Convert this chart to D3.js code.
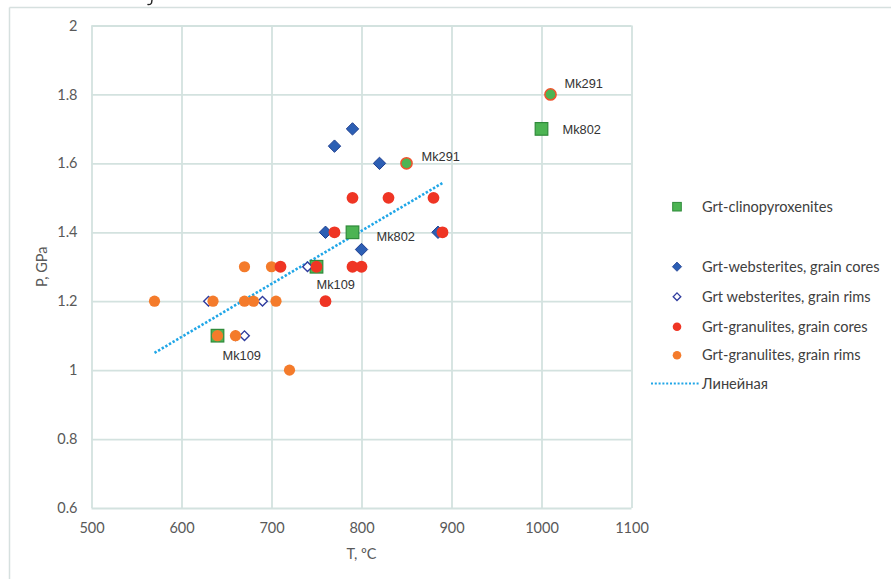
<!DOCTYPE html>
<html>
<head>
<meta charset="utf-8">
<script src="https://cdn.jsdelivr.net/npm/d3@7"></script>
<style>
  html, body { margin: 0; padding: 0; background: #fff; }
  svg { display: block; }
</style>
</head>
<body>
<svg id="chart" width="891" height="579"></svg>
<script>
// P–T estimates (temperature, °C; pressure, GPa) by rock group
const clinopyroxeniteT = [640, 750, 790, 1000];
const clinopyroxeniteP = [1.1, 1.3, 1.4, 1.7];
const clinopyroxeniteLabels = ["Mk109", "Mk109", "Mk802", "Mk802"];

const websteriteCoreT = [790, 770, 820, 760, 800, 885];
const websteriteCoreP = [1.7, 1.65, 1.6, 1.4, 1.35, 1.4];

const websteriteRimT = [630, 690, 660, 670, 740];
const websteriteRimP = [1.2, 1.2, 1.1, 1.1, 1.3];

const granuliteCoreT = [790, 830, 880, 770, 890, 710, 750, 790, 800, 760];
const granuliteCoreP = [1.5, 1.5, 1.5, 1.4, 1.4, 1.3, 1.3, 1.3, 1.3, 1.2];

const granuliteRimT = [670, 700, 570, 635, 670, 680, 705, 640, 660, 720];
const granuliteRimP = [1.3, 1.3, 1.2, 1.2, 1.2, 1.2, 1.2, 1.1, 1.1, 1.0];

// Samples plotted as green discs ringed in red
const highlightT = [850, 1010];
const highlightP = [1.6, 1.8];
const highlightLabels = ["Mk291", "Mk291"];

// Linear trend end points
const trendT = [570, 890];
const trendP = [1.05, 1.543];

const xTicks = [500, 600, 700, 800, 900, 1000, 1100];
const yTicks = [0.6, 0.8, 1, 1.2, 1.4, 1.6, 1.8, 2];

const legendNames = [
  "Grt-clinopyroxenites",
  "Grt-websterites, grain cores",
  "Grt websterites, grain rims",
  "Grt-granulites, grain cores",
  "Grt-granulites, grain rims",
  "Линейная"
];

const C = {
  grid: "#d3e2df",
  frame: "#d6e0df",
  tick: "#595959",
  legend: "#404040",
  label: "#333333",
  green: "#4cb453",
  greenStroke: "#2f8a3a",
  blue: "#2c5fb4",
  blueStroke: "#1f3f90",
  openStroke: "#2f3c9e",
  red: "#ef3524",
  orange: "#f47b2b",
  ring: "#f0522c",
  trend: "#20a6e7"
};

const svg = d3.select("#chart");
const plotLeft = 91.5, plotRight = 631.5, plotTop = 25.5, plotBottom = 508;

const x = d3.scaleLinear().domain([500, 1100]).range([plotLeft, plotRight]);
const y = d3.scaleLinear().domain([0.6, 2]).range([plotBottom, plotTop]);

// outer frame (top and left edges)
svg.append("line").attr("x1", 9.5).attr("x2", 891).attr("y1", 7.5).attr("y2", 7.5)
  .attr("stroke", C.frame).attr("stroke-width", 1.5);
svg.append("line").attr("x1", 9.5).attr("x2", 9.5).attr("y1", 7.5).attr("y2", 579)
  .attr("stroke", C.frame).attr("stroke-width", 1.5);

// small ink stroke above the frame
svg.append("path").attr("d", "M152,0 L151.5,3 Q150.5,5 148,4.5")
  .attr("fill", "none").attr("stroke", "#222").attr("stroke-width", 1.4)
  .attr("stroke-linecap", "round");

// grid
const xAxis = d3.axisBottom(x).tickValues(xTicks).tickSize(-(plotBottom - plotTop)).tickPadding(12)
  .tickFormat(d3.format("d"));
const yAxis = d3.axisLeft(y).tickValues(yTicks).tickSize(-(plotRight - plotLeft)).tickPadding(14)
  .tickFormat(d => d3.format("")(d));

const gx = svg.append("g").attr("transform", `translate(0,${plotBottom})`).call(xAxis);
const gy = svg.append("g").attr("transform", `translate(${plotLeft},0)`).call(yAxis);
[gx, gy].forEach(g => {
  g.select(".domain").remove();
  g.selectAll(".tick line").attr("stroke", C.grid).attr("stroke-width", 1.8);
  g.selectAll(".tick text").attr("fill", C.tick)
    .attr("font-family", "Lato, 'Open Sans', sans-serif").attr("font-size", 14.5);
});
gx.selectAll(".tick text").attr("dy", "0.9em");

// axis titles
svg.append("text").attr("x", (plotLeft + plotRight) / 2).attr("y", 559)
  .attr("text-anchor", "middle").attr("fill", C.tick)
  .attr("font-family", "Lato, 'Open Sans', sans-serif").attr("font-size", 14.5)
  .text("T, ºC");
svg.append("text")
  .attr("transform", `translate(47,${(plotTop + plotBottom) / 2}) rotate(-90)`)
  .attr("text-anchor", "middle").attr("fill", C.tick)
  .attr("font-family", "Lato, 'Open Sans', sans-serif").attr("font-size", 14.5)
  .text("P, GPa");

const plot = svg.append("g");
const zip = (ts, ps) => ts.map((t, i) => ({ t, p: ps[i] }));

// trend line
plot.append("line")
  .attr("x1", x(trendT[0])).attr("y1", y(trendP[0]))
  .attr("x2", x(trendT[1])).attr("y2", y(trendP[1]))
  .attr("stroke", C.trend).attr("stroke-width", 2.6)
  .attr("stroke-dasharray", "2.4 1.8");

const diamond = s => `M0,${-s}L${s},0L0,${s}L${-s},0Z`;

// clinopyroxenite squares
plot.selectAll(".sq").data(zip(clinopyroxeniteT, clinopyroxeniteP)).join("rect")
  .attr("x", d => x(d.t) - 6.3).attr("y", d => y(d.p) - 6.3)
  .attr("width", 12.6).attr("height", 12.6)
  .attr("fill", C.green).attr("stroke", C.greenStroke).attr("stroke-width", 1.2);

// websterite cores
plot.selectAll(".wc").data(zip(websteriteCoreT, websteriteCoreP)).join("path")
  .attr("transform", d => `translate(${x(d.t)},${y(d.p)})`)
  .attr("d", diamond(6.2))
  .attr("fill", C.blue).attr("stroke", C.blueStroke).attr("stroke-width", 1);

// websterite rims
plot.selectAll(".wr").data(zip(websteriteRimT, websteriteRimP)).join("path")
  .attr("transform", d => `translate(${x(d.t)},${y(d.p)})`)
  .attr("d", diamond(4.8))
  .attr("fill", "#fff").attr("stroke", C.openStroke).attr("stroke-width", 1.4);

// granulite rims
plot.selectAll(".gr").data(zip(granuliteRimT, granuliteRimP)).join("circle")
  .attr("cx", d => x(d.t)).attr("cy", d => y(d.p)).attr("r", 5.6)
  .attr("fill", C.orange);

// granulite cores
plot.selectAll(".gc").data(zip(granuliteCoreT, granuliteCoreP)).join("circle")
  .attr("cx", d => x(d.t)).attr("cy", d => y(d.p)).attr("r", 5.9)
  .attr("fill", C.red);

// ringed green samples
plot.selectAll(".hl").data(zip(highlightT, highlightP)).join("circle")
  .attr("cx", d => x(d.t)).attr("cy", d => y(d.p)).attr("r", 5.6)
  .attr("fill", C.green).attr("stroke", C.ring).attr("stroke-width", 1.5);

// sample labels
const labelFont = "'Liberation Sans', Arial, sans-serif";
const labelOffsets = [[5, 24], [0, 22], [24, 9], [21, 5]];
clinopyroxeniteLabels.forEach((s, i) => {
  const o = labelOffsets[i];
  plot.append("text")
    .attr("x", x(clinopyroxeniteT[i]) + o[0]).attr("y", y(clinopyroxeniteP[i]) + o[1])
    .attr("font-family", labelFont).attr("font-size", 12.8).attr("fill", C.label)
    .text(s);
});
const hlOffsets = [[15, -2], [14, -6]];
highlightLabels.forEach((s, i) => {
  plot.append("text")
    .attr("x", x(highlightT[i]) + hlOffsets[i][0]).attr("y", y(highlightP[i]) + hlOffsets[i][1])
    .attr("font-family", labelFont).attr("font-size", 12.8).attr("fill", C.label)
    .text(s);
});

// legend
const legend = svg.append("g");
const rows = [206.7, 266.7, 296.7, 326.7, 355.3, 383.5];
const legendX = 677, textX = 702;
legendNames.forEach((name, i) => {
  const cy = rows[i];
  if (i === 0) {
    legend.append("rect").attr("x", legendX - 4.3).attr("y", cy - 4.3)
      .attr("width", 8.6).attr("height", 8.6)
      .attr("fill", C.green).attr("stroke", C.greenStroke).attr("stroke-width", 1);
  } else if (i === 1) {
    legend.append("path").attr("transform", `translate(${legendX},${cy})`)
      .attr("d", diamond(4.6)).attr("fill", C.blue).attr("stroke", C.blueStroke).attr("stroke-width", 0.8);
  } else if (i === 2) {
    legend.append("path").attr("transform", `translate(${legendX},${cy})`)
      .attr("d", diamond(3.8)).attr("fill", "#fff").attr("stroke", C.openStroke).attr("stroke-width", 1.3);
  } else if (i === 3) {
    legend.append("circle").attr("cx", legendX).attr("cy", cy).attr("r", 4.3).attr("fill", C.red);
  } else if (i === 4) {
    legend.append("circle").attr("cx", legendX).attr("cy", cy).attr("r", 4.3).attr("fill", C.orange);
  } else {
    legend.append("line").attr("x1", 651).attr("x2", 699).attr("y1", cy).attr("y2", cy)
      .attr("stroke", C.trend).attr("stroke-width", 2.2).attr("stroke-dasharray", "2 1.8");
  }
  legend.append("text").attr("x", textX).attr("y", cy).attr("dy", "0.35em")
    .attr("font-family", "Lato, 'Open Sans', sans-serif").attr("font-size", 14.6)
    .attr("fill", C.legend).text(name);
});
</script>
</body>
</html>
